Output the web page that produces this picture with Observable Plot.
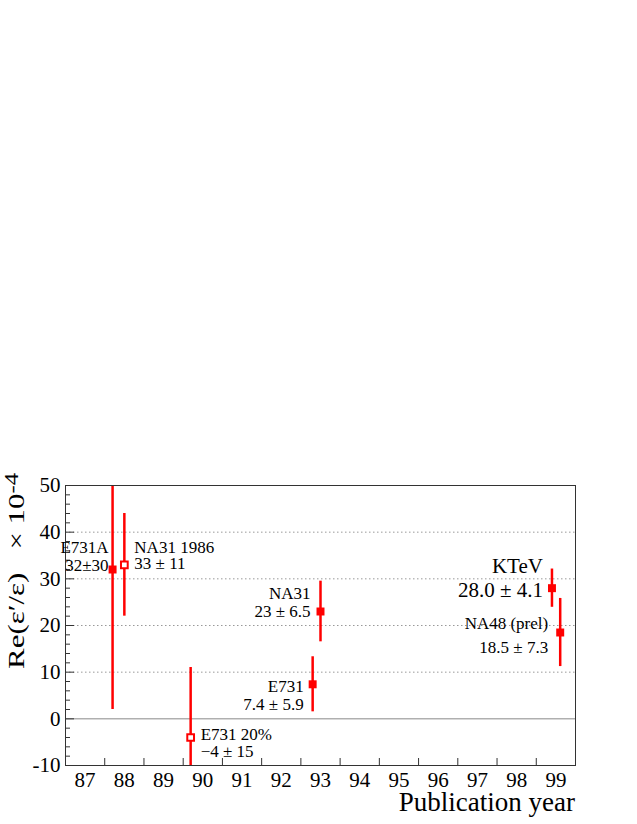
<!DOCTYPE html>
<html><head><meta charset="utf-8">
<script src="https://cdn.jsdelivr.net/npm/d3@7"></script>
<script src="https://cdn.jsdelivr.net/npm/@observablehq/plot@0.6"></script>
<style>body{margin:0;background:#fff} svg{display:block} svg text{font-family:"Liberation Serif","Times New Roman",serif}</style>
</head><body><div id="chart"></div>
<script>
// ---- data ----
const names = ["E731A", "NA31 1986", "E731 20%", "E731", "NA31", "KTeV", "NA48 (prel)"];
const years = [87.7, 88.0, 89.69, 92.8, 93.0, 98.9, 99.11];
const values = [32, 33, -4, 7.4, 23, 28.0, 18.5];
const errors = [30, 11, 15, 5.9, 6.5, 4.1, 7.3];
const valueLabels = ["32±30", "33 ± 11", "−4 ± 15", "7.4 ± 5.9", "23 ± 6.5", "28.0 ± 4.1", "18.5 ± 7.3"];
const filled = [true, false, false, true, true, true, true];

const yearTicks = d3.range(87, 100);
const binEdges = d3.range(87.5, 99.5, 1);
const yMajor = [-10, 0, 10, 20, 30, 40, 50];
const yMinor = d3.range(-8, 50, 2).filter(v => v % 10 !== 0);
const gridLines = [10, 20, 30, 40];

// ---- label layout (styles / offsets) ----
const labelLayout = {
  "E731A":       {anchor: "end",   dx: -4,  dyName: -22, dyValue: -4,  size: 17},
  "NA31 1986":   {anchor: "start", dx: 10,  dyName: -17, dyValue: -1,  size: 17},
  "E731 20%":    {anchor: "start", dx: 10,  dyName: -3,  dyValue: 14,  size: 17},
  "E731":        {anchor: "end",   dx: -9,  dyName: 2,   dyValue: 20,  size: 17},
  "NA31":        {anchor: "end",   dx: -10, dyName: -18, dyValue: 0,   size: 17},
  "KTeV":        {anchor: "end",   dx: -9,  dyName: -22, dyValue: 2,   size: 21},
  "NA48 (prel)": {anchor: "end",   dx: -12, dyName: -9,  dyValue: 15,  size: 17}
};

const rows = names.map((name, i) => ({
  name, year: years[i], value: values[i], err: errors[i],
  lo: values[i] - errors[i], hi: values[i] + errors[i],
  valueLabel: valueLabels[i], filled: filled[i]
}));

const font = '"Liberation Serif", "Times New Roman", serif';
const red = "#ff0000";

const labelMarks = rows.flatMap(r => {
  const L = labelLayout[r.name];
  const common = {x: "year", y: "value", textAnchor: L.anchor, dx: L.dx, fontSize: L.size,
                  lineAnchor: "middle", fill: "black", fontFamily: font};
  return [
    Plot.text([r], {...common, text: "name", dy: L.dyName}),
    Plot.text([r], {...common, text: "valueLabel", dy: L.dyValue})
  ];
});

const chart = Plot.plot({
  width: 637,
  height: 824,
  marginLeft: 65,
  marginRight: 62,
  marginTop: 485,
  marginBottom: 59,
  style: {fontFamily: font, background: "white", color: "black"},
  x: {domain: [86.5, 99.5], axis: null, label: null},
  y: {domain: [-10, 50], axis: null, label: null},
  marks: [
    Plot.ruleY(gridLines, {stroke: "#999", strokeDasharray: "1.5,2.5", strokeWidth: 1}),
    Plot.ruleY([0], {stroke: "#888", strokeWidth: 1}),
    Plot.axisX({ticks: yearTicks, tickSize: 0, tickPadding: 7, fontSize: 21, tickFormat: d => String(d), fontFamily: font, fill: "black", label: null}),
    Plot.axisX({ticks: binEdges, tickSize: -7, tickFormat: () => "", stroke: "#333", label: null}),
    Plot.axisY({ticks: yMajor, tickSize: 0, tickPadding: 5, fontSize: 21, tickFormat: d => String(d), fontFamily: font, fill: "black", label: null}),
    Plot.axisY({ticks: yMajor, tickSize: -9, tickFormat: () => "", stroke: "#333", label: null}),
    Plot.axisY({ticks: yMinor, tickSize: -5, tickFormat: () => "", stroke: "#333", label: null}),
    Plot.ruleX(rows, {x: "year", y1: "lo", y2: "hi", stroke: red, strokeWidth: 2.5, clip: true}),
    Plot.dot(rows.filter(r => r.filled), {x: "year", y: "value", symbol: "square", r: 4.5, fill: red, stroke: "none"}),
    Plot.dot(rows.filter(r => !r.filled), {x: "year", y: "value", symbol: "square", r: 3.8, fill: "white", stroke: red, strokeWidth: 2}),
    Plot.frame({stroke: "#333", strokeWidth: 1}),
    ...labelMarks
  ]
});

document.getElementById("chart").appendChild(chart);

// axis titles
const svg = d3.select(chart);
svg.append("text")
  .attr("x", 575).attr("y", 811)
  .attr("text-anchor", "end")
  .style("font-family", font).attr("font-size", 27).attr("fill", "black")
  .text("Publication year");

const yTitleLength = 196;
const yg = svg.append("g");
const yl = yg.append("text")
  .attr("text-anchor", "end")
  .style("font-family", font).attr("font-size", 23).attr("fill", "black");
yl.append("tspan").text("Re(ε′/ε)\u00a0\u00a0\u00a0×\u00a010");
yl.append("tspan").attr("dy", "-0.3em").attr("font-size", "0.8em").text("-4");
const natural = yl.node().getComputedTextLength() || yTitleLength;
const sx = yTitleLength / natural;
yg.attr("transform", `translate(24,473) rotate(-90) scale(${sx},1)`);
</script>
</body></html>
